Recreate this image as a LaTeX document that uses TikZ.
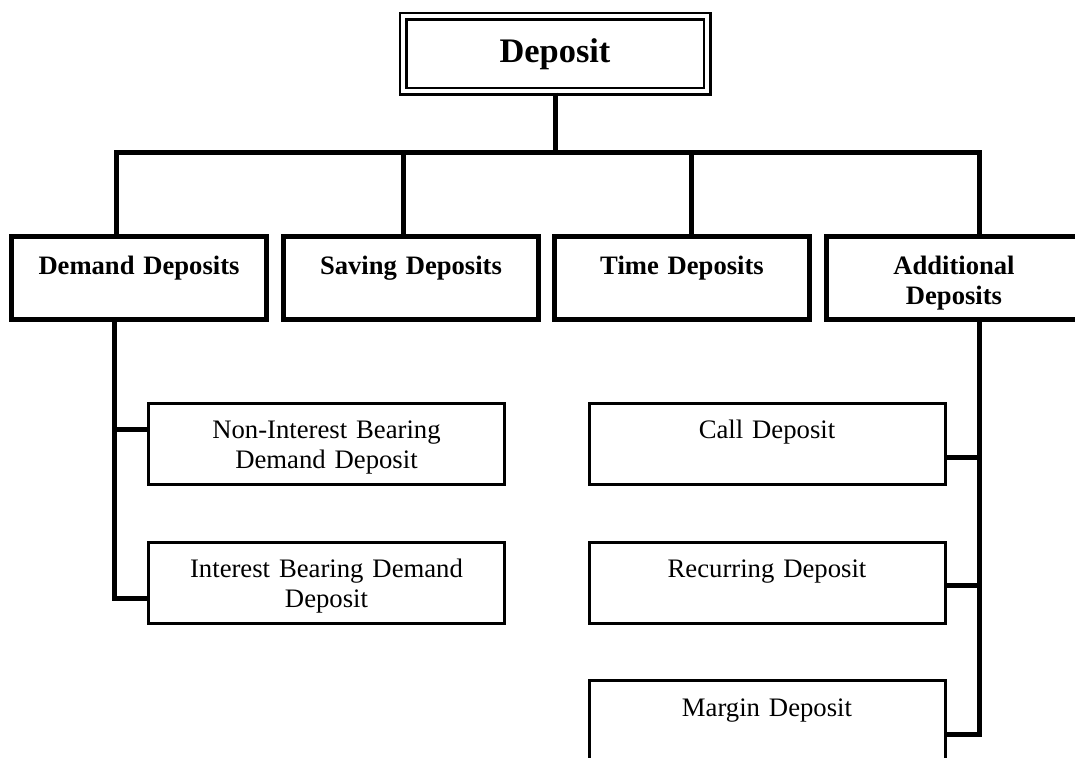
\documentclass[tikz,border=0pt]{standalone}
\usepackage{fontspec}
\setmainfont{Liberation Serif}
\usepackage{tikz}

\begin{document}
\begin{tikzpicture}[x=0.5pt, y=-0.5pt, every node/.style={rectangle, draw=black, fill=white, inner sep=0pt, align=center},
	head/.style={double, line width=1.25pt, double distance=2pt, text width=152pt, text height=23.25pt, text depth=14.25pt, font=\fontsize{17.2}{20}\selectfont\bfseries},
	kind/.style={line width=2.5pt, text width=127.5pt, text height=19.25pt, text depth=22.25pt, font=\fontsize{13.3}{15}\selectfont\bfseries},
	sub/.style={line width=1.5pt, text width=178pt, text height=17.75pt, text depth=22.75pt, font=\fontsize{13.35}{15}\selectfont},
	link/.style={draw=black, line width=2.5pt}]
			\useasboundingbox (0,0) rectangle (1075,758);
			\clip (0,0) rectangle (1075,758);
			\fill[white] (0,0) rectangle (1075,758);
			
			\node[head] (dep) at (555,54){Deposit};
			
			\node[kind] (dem) at (139,278){Demand Deposits};
			\node[kind] (sav) at (411,278){Saving Deposits};
			\node[kind] (tim) at (682,278){Time Deposits};
			\node[kind] (add) at (954,278){Additional\\Deposits};
			
			\node[sub] (nib) at (326.5,444){Non-Interest Bearing\\Demand Deposit};
			\node[sub] (ib) at (326.5,582.5){Interest Bearing Demand\\Deposit};
			\node[sub] (cal) at (767,444){Call Deposit};
			\node[sub] (rec) at (767,582.5){Recurring Deposit};
			\node[sub] (mar) at (767,721){Margin Deposit};
			
			\coordinate (j1) at (116,153);
			\coordinate (j2) at (403,153);
			\coordinate (j3) at (691,153);
			\coordinate (j4) at (979,153);
			\coordinate (l1) at (114,430);
			\coordinate (l2) at (114,598);
			\coordinate (r1) at (979,458);
			\coordinate (r2) at (979,585);
			\coordinate (r3) at (979,734);
			
			\draw[link] (dep) -- (dep.south |- j1);
			\draw[link] (j1 |- dem.north) -- (j1) -- (j4) -- (j4 |- add.north);
			\draw[link] (j2) -- (j2 |- sav.north);
			\draw[link] (j3) -- (j3 |- tim.north);
			\draw[link] (dem.south -| l1) -- (l2) -- (l2 -| ib.west);
			\draw[link] (l1) -- (nib.west |- l1);
			\draw[link] (add.south -| r1) -- (r3) -- (r3 -| mar.east);
			\draw[link] (r1) -- (cal.east |- r1);
			\draw[link] (r2) -- (rec.east |- r2);
			\end{tikzpicture}
\end{document}
